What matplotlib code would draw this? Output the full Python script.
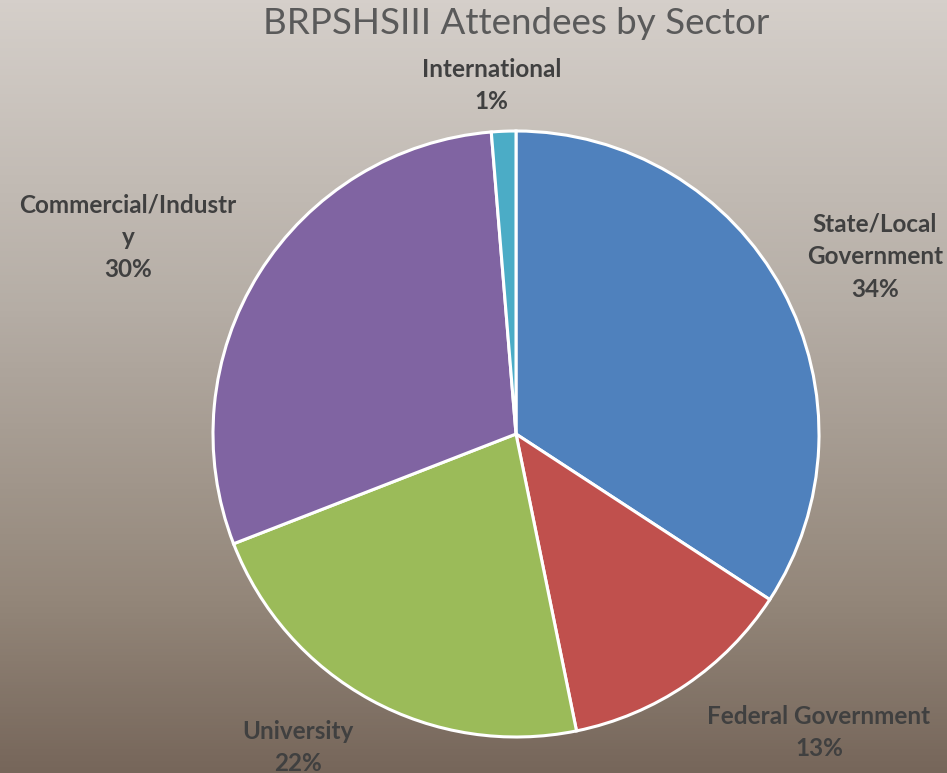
import numpy as np
import matplotlib.pyplot as plt
from matplotlib.colors import LinearSegmentedColormap

# sector shares (percent), clockwise from 12 o'clock
sectors = ["State/Local\nGovernment", "Federal Government", "University",
           "Commercial/Industr\ny", "International"]
shares = [34.2, 12.6, 22.3, 29.6, 1.3]
colors = ["#4F81BD", "#C0504D", "#9BBB59", "#8064A2", "#4BACC6"]

# label anchor positions in pie units (radius = 1)
label_pos = [(1.185, 0.585), (1.0, -0.985), (-0.72, -1.035), (-1.28, 0.65), (-0.08, 1.15)]

fig = plt.figure(figsize=(9.47, 7.73), dpi=100)

# background gradient
bg = fig.add_axes([0, 0, 1, 1])
cmap = LinearSegmentedColormap.from_list(
    "bg", [(0, "#d5cfca"), (0.4, "#b5ada5"), (0.78, "#938679"), (1, "#76665a")])
grad = np.linspace(0, 1, 256).reshape(-1, 1)
bg.imshow(grad, aspect="auto", cmap=cmap, extent=[0, 1, 0, 1], origin="upper")
bg.axis("off")

ax = fig.add_axes([(516 - 303) / 947, (773 - 434 - 303) / 773, 606 / 947, 606 / 773])
ax.pie(shares, colors=colors, startangle=90, counterclock=False, radius=1,
       wedgeprops=dict(edgecolor="white", linewidth=2.2))
ax.set_xlim(-1, 1)
ax.set_ylim(-1, 1)
ax.set_aspect("equal")
ax.axis("off")

for name, val, (x, y) in zip(sectors, shares, label_pos):
    ax.text(x, y, f"{name}\n{round(val):.0f}%", ha="center", va="center",
            fontsize=17.5, fontweight="bold", family="Lato", color="#404040",
            linespacing=1.5, clip_on=False)

fig.text(516 / 947, 1 - 24 / 773, "BRPSHSIII Attendees by Sector", ha="center",
         va="center", fontsize=26.5, family="Lato", fontweight="normal", color="#5a5a5a")

fig.savefig("out.png", dpi=100)
